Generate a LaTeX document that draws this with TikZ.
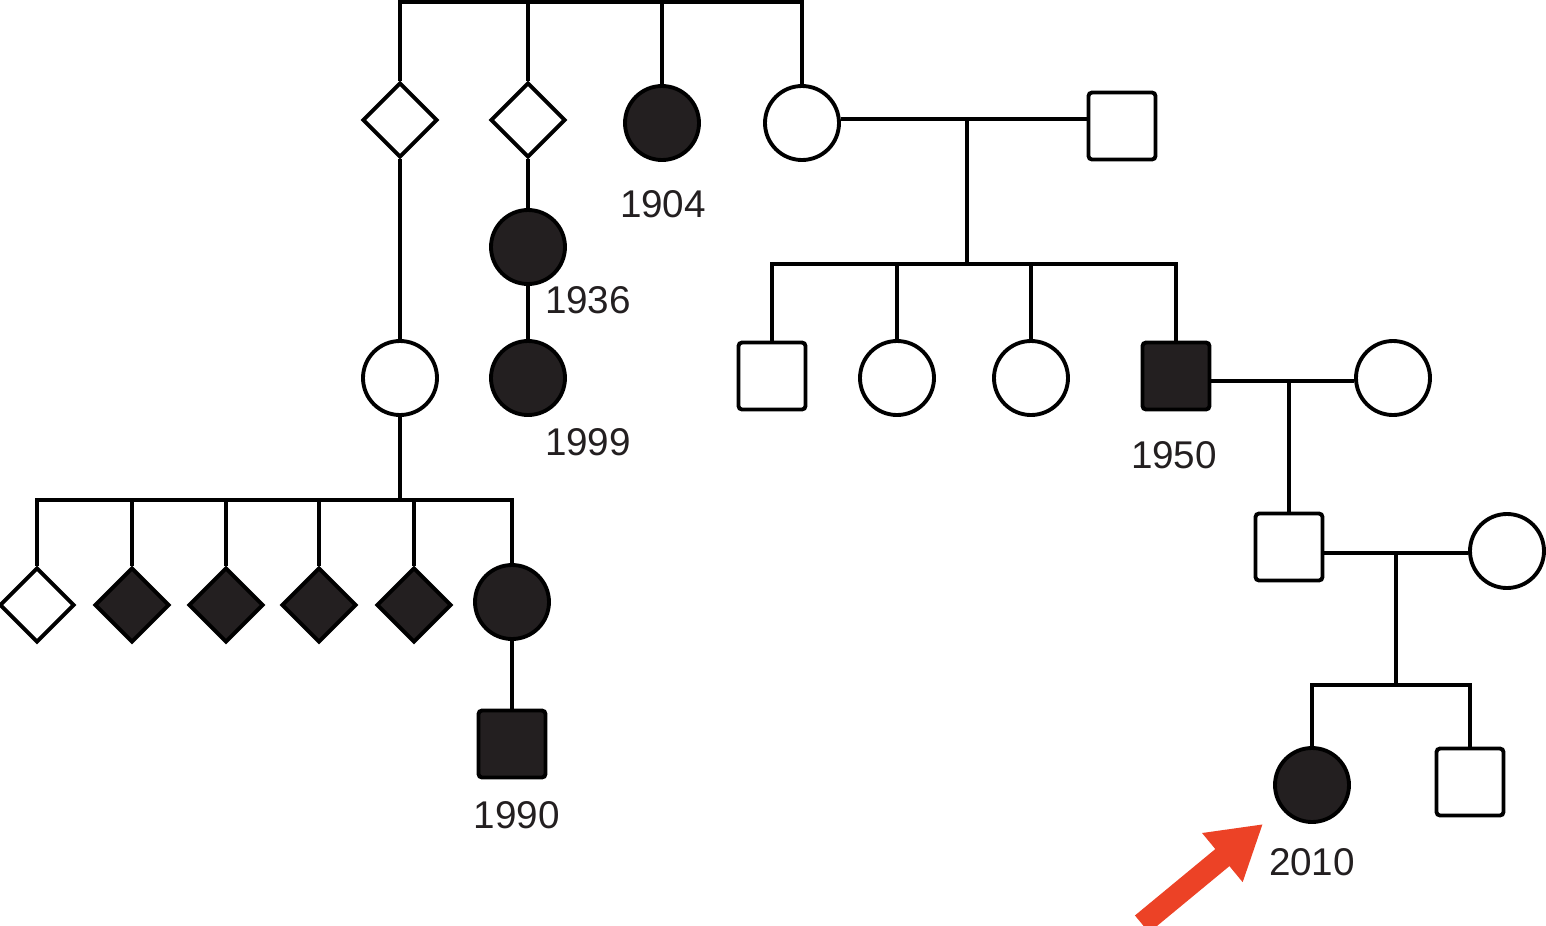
\documentclass[tikz,border=0pt]{standalone}
\usepackage{fontspec}
\setmainfont{Liberation Sans}
\usetikzlibrary{shapes, arrows.meta, shapes.geometric, calc}
\definecolor{pedfill}{RGB}{35,31,32}
\definecolor{pedred}{RGB}{236,66,38}

\begin{document}
\begin{tikzpicture}[line width=1.1pt, every node/.style={inner sep=0pt}]
    \tikzstyle{female} = [draw, circle, minimum size=0.74cm, fill=white]
    \tikzstyle{male} = [draw, rectangle, minimum size=0.67cm, rounded corners=1pt, fill=white]
    \tikzstyle{unknown} = [draw, diamond, aspect=1, minimum size=0.75cm, fill=white]
    \tikzstyle{affected} = [fill=pedfill]
    \tikzstyle{year} = [font=\fontsize{11}{13}\selectfont, text=pedfill]
    \useasboundingbox (0,0) rectangle (15.46,-9.26);

    % first generation
    \node[unknown] (d1) at (4.00, -1.20) {};
    \node[unknown] (d2) at (5.28, -1.20) {};
    \node[female, affected] (f1904) at (6.62, -1.23) {};
    \node[female] (w1) at (8.02, -1.23) {};
    \node[male] (h1) at (11.22, -1.26) {};
    \node[year] (y1904) at (6.63, -2.04) {1904};
    \coordinate (top) at (0, -0.02);

    \draw (d1.north) -- (d1.north |- top) -- (w1.north |- top) -- (w1.north);
    \draw (d2.north) -- (d2.north |- top);
    \draw (f1904.north) -- (f1904.north |- top);

    % left branch
    \node[female, affected] (f1936) at (5.28, -2.47) {};
    \node[year] (y1936) at (5.88, -3.00) {1936};
    \node[female, affected] (f1999) at (5.28, -3.78) {};
    \node[year] (y1999) at (5.88, -4.42) {1999};
    \node[female] (w2) at (4.00, -3.78) {};
    \draw (d2) -- (f1936);
    \draw (f1936) -- (f1999);
    \draw (d1) -- (w2);

    \node[unknown] (e1) at (0.37, -6.05) {};
    \node[unknown, affected] (e2) at (1.32, -6.05) {};
    \node[unknown, affected] (e3) at (2.26, -6.05) {};
    \node[unknown, affected] (e4) at (3.19, -6.05) {};
    \node[unknown, affected] (e5) at (4.14, -6.05) {};
    \node[female, affected] (f6) at (5.12, -6.02) {};
    \node[male, affected] (m1990) at (5.12, -7.44) {};
    \node[year] (y1990) at (5.17, -8.15) {1990};
    \coordinate (sib2) at (0, -5.00);

    \draw (w2) -- (w2 |- sib2);
    \draw (e1.north) -- (e1.north |- sib2) -- (f6.north |- sib2) -- (f6.north);
    \foreach \k in {e2, e3, e4, e5}
        \draw (\k.north) -- (\k.north |- sib2);
    \draw (f6) -- (m1990);

    % right branch
    \coordinate (mar1) at (9.67, -1.19);
    \draw (w1.east |- mar1) -- (h1.west |- mar1);
    \node[male] (b1) at (7.72, -3.76) {};
    \node[female] (b2) at (8.97, -3.78) {};
    \node[female] (b3) at (10.31, -3.78) {};
    \node[male, affected] (m1950) at (11.76, -3.76) {};
    \node[year] (y1950) at (11.74, -4.55) {1950};
    \coordinate (sib3) at (9.67, -2.64);
    \draw (mar1) -- (sib3);
    \draw (b1.north) -- (b1.north |- sib3) -- (m1950.north |- sib3) -- (m1950.north);
    \draw (b2.north) -- (b2.north |- sib3);
    \draw (b3.north) -- (b3.north |- sib3);

    \node[female] (w3) at (13.93, -3.78) {};
    \node[male] (s2) at (12.89, -5.47) {};
    \coordinate (mar2) at (12.89, -3.81);
    \draw (m1950.east |- mar2) -- (w3.west |- mar2);
    \draw (mar2) -- (s2);

    \node[female] (w4) at (15.07, -5.51) {};
    \coordinate (mar3) at (13.96, -5.53);
    \draw (s2.east |- mar3) -- (w4.west |- mar3);

    \node[female, affected] (f2010) at (13.12, -7.85) {};
    \node[male] (s3) at (14.70, -7.82) {};
    \node[year] (y2010) at (13.12, -8.62) {2010};
    \coordinate (sib4) at (13.96, -6.85);
    \draw (mar3) -- (sib4);
    \draw (f2010.north) -- (f2010.north |- sib4) -- (s3.north |- sib4) -- (s3.north);

    % proband arrow
    \coordinate (tail) at (11.42, -9.24);
    \coordinate (tip) at (12.63, -8.24);
    \draw[pedred, line width=6.3pt, -{Triangle[length=15pt, width=17pt]}] (tail) -- (tip);
\end{tikzpicture}
\end{document}
